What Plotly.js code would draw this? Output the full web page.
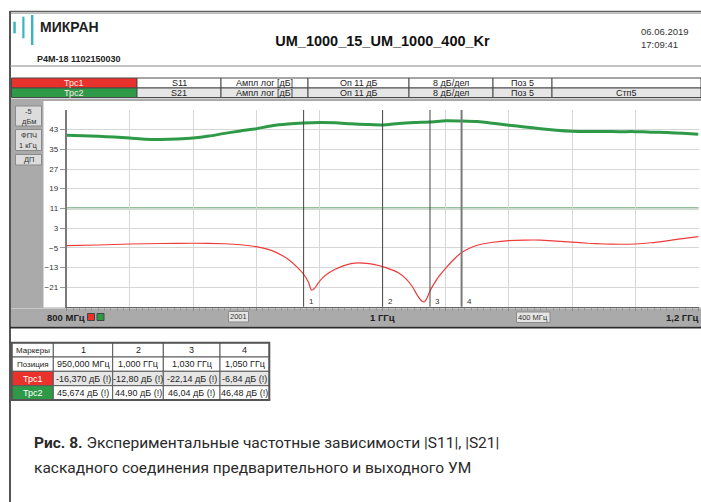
<!DOCTYPE html>
<html><head><meta charset="utf-8">
<script src="https://cdn.plot.ly/plotly-3.0.1.min.js"></script>
<style>html,body{margin:0;padding:0;background:#fff;overflow:hidden}#chart{width:701px;height:502px}</style>
</head><body><div id="chart"></div>
<script>
// ---------- data ----------
const freqS11 = [800,820,840,860,880,900,910,920,930,937,942,946,950,953,955,957,959,962,966,970,975,980,985,990,995,1000,1005,1010,1015,1019,1022,1025,1026.5,1028,1030,1033,1036,1040,1045,1050,1055,1060,1070,1080,1090,1100,1110,1120,1130,1140,1150,1160,1170,1180,1190,1200];
const s11 = [-4.2,-3.9,-3.5,-3.3,-3.2,-3.4,-3.8,-4.6,-6.2,-8.4,-10.6,-13.0,-15.8,-19.0,-22.3,-21.5,-19.6,-17.3,-15.2,-13.8,-12.4,-11.5,-11.2,-11.4,-11.9,-12.7,-13.8,-15.2,-17.8,-21.0,-24.4,-26.8,-27.0,-25.6,-22.6,-19.2,-16.4,-13.3,-9.8,-7.0,-5.2,-4.0,-2.8,-2.1,-1.9,-1.9,-2.3,-2.7,-3.2,-3.5,-3.6,-3.5,-3.0,-2.2,-1.3,-0.5];
const freqS21 = [800,810,820,830,840,850,860,870,880,890,900,910,920,930,940,950,960,970,980,990,1000,1010,1020,1030,1040,1050,1060,1070,1080,1090,1100,1110,1120,1130,1140,1150,1160,1170,1180,1190,1200];
const s21 = [40.7,40.5,40.3,40.0,39.6,39.1,39.0,39.2,39.6,40.4,41.5,42.5,43.4,44.6,45.3,45.7,45.9,45.8,45.4,45.1,44.9,45.5,45.9,46.1,46.6,46.5,46.3,45.6,44.8,44.1,43.4,42.8,42.4,42.3,42.3,42.2,42.2,42.0,41.8,41.5,41.1];
const yTicks = [43,35,27,19,11,3,-5,-13,-21];
const refLevel = 11;
const markerNames = ['1','2','3','4'];
const markerFreqs = [950,1000,1030,1050];
const markerPos = ['950,000 МГц','1,000 ГГц','1,030 ГГц','1,050 ГГц'];
const markerTrc1 = ['-16,370 дБ (!)','-12,80 дБ (!)','-22,14 дБ (!)','-6,84 дБ (!)'];
const markerTrc2 = ['45,674 дБ (!)','44,90 дБ (!)','46,04 дБ (!)','46,48 дБ (!)'];
const traceRow1 = ['Трс1','S11','Ампл лог [дБ]','Оп 11 дБ','8 дБ/дел','Поз 5',''];
const traceRow2 = ['Трс2','S21','Ампл лог [дБ]','Оп 11 дБ','8 дБ/дел','Поз 5','Стп5'];
const sideButtons = [['-5','дБм'],['ФПЧ','1 кГц'],['ДП']];
const chartTitle = 'UM_1000_15_UM_1000_400_Kr';
const brandName = 'МИКРАН';
const deviceId = 'Р4М-18 1102150030';
const dateText = '06.06.2019', timeText = '17:09:41';
const startLabel = '800 МГц', centerLabel = '1 ГГц', stopLabel = '1,2 ГГц', spanLabel = '400 МГц', pointsLabel = '2001';
const captionBold = 'Рис. 8.';
const captionLine1 = 'Экспериментальные частотные зависимости |S11|, |S21|';
const captionLine2 = 'каскадного соединения предварительного и выходного УМ';

// ---------- helpers ----------
const W = 701, H = 502;
const X = p => p / W, Y = p => 1 - p / H;
const RED = '#e8322b', GREEN = '#2e9a47';
const ARIAL = 'Liberation Sans, Arial, sans-serif';
const shapes = [], ann = [];
function rect(x0, y0, x1, y1, fill, lc, lw, layer) {
  shapes.push({type:'rect', xref:'paper', yref:'paper', x0:X(x0), x1:X(x1), y0:Y(y1), y1:Y(y0),
    fillcolor: fill || 'rgba(0,0,0,0)', line:{color: lc || 'rgba(0,0,0,0)', width: lw === undefined ? 1 : lw}, layer: layer || 'below'});
}
function line(x0, y0, x1, y1, color, width, layer) {
  shapes.push({type:'line', xref:'paper', yref:'paper', x0:X(x0), x1:X(x1), y0:Y(y0), y1:Y(y1),
    line:{color, width}, layer: layer || 'below'});
}
function txt(text, x, y, size, opt) {
  opt = opt || {};
  ann.push({text, xref:'paper', yref:'paper', x:X(x), y:Y(y), xanchor: opt.anchor || 'center', yanchor:'middle',
    showarrow:false, borderpad:0, font:{family: opt.family || ARIAL, size, color: opt.color || '#222'}});
}

// ---------- frame & header ----------
line(10, 11.5, 701, 11.5, '#5e5e5e', 1.5);
line(10, 13.2, 701, 13.2, '#a0a0a0', 1);
line(10, 11, 10, 502, '#555', 2);
line(10, 66, 701, 66, '#8a8a8a', 1);
// logo bars
rect(13.3, 21.7, 15.8, 33.3, '#39b4c2', null, 0);
rect(22.3, 16.7, 24.5, 38.3, '#39b4c2', null, 0);
rect(31, 15, 33.4, 45, '#39b4c2', null, 0);
txt('<b>' + brandName + '</b>', 39, 27, 14, {anchor:'left', color:'#1e1e1e'});
txt('<b>' + deviceId + '</b>', 36, 58.5, 9, {anchor:'left'});
txt(dateText, 640, 31.5, 9.5, {anchor:'left', color:'#333'});
txt(timeText, 640, 44, 9.5, {anchor:'left', color:'#333'});

// trace rows
const colEdges = [11.5, 137, 221, 308, 409, 493, 552, 701];
[[traceRow1, 78, 88, RED, '#ffffff'], [traceRow2, 88, 97.5, GREEN, '#e6e6e6']].forEach(([row, y0, y1, c0, bg]) => {
  row.forEach((t, i) => {
    rect(colEdges[i], y0, colEdges[i + 1], y1, i === 0 ? c0 : bg, '#4a4a4a', 1);
    if (t) txt(t, (colEdges[i] + colEdges[i + 1]) / 2, (y0 + y1) / 2, 9, {color: i === 0 ? '#fbe9e9' : '#222'});
  });
});

// ---------- instrument panel ----------
rect(11, 98.5, 701, 326, '#aaaaaa', null, 0);
rect(43.5, 101, 701, 307.5, '#ffffff', null, 0);
line(11, 308.5, 701, 308.5, '#c8c8c8', 1);
line(10, 327.5, 701, 327.5, '#2a2a2a', 2);
// side buttons
const btnY = [[106, 126], [129.5, 150.5], [154.5, 165]];
sideButtons.forEach((lines, i) => {
  const [a, b] = btnY[i];
  rect(15.5, a, 41.5, b, '#dcdcdc', '#8a8a8a', 1);
  if (lines.length === 2) {
    txt(lines[0], 28.5, a + 5.5, 7.5, {color:'#333'});
    txt(lines[1], 28.5, b - 5, 7.5, {color:'#333'});
  } else {
    txt(lines[0], 28.5, (a + b) / 2, 7.5, {color:'#333'});
  }
});
// bottom bar
txt('<b>' + startLabel + '</b>', 45.5, 317, 9.5, {anchor:'left', color:'#1e1e1e'});
rect(87.5, 313.5, 94.5, 320.5, RED, '#444', 1, 'above');
rect(97, 313.5, 104, 320.5, GREEN, '#444', 1, 'above');
rect(228.5, 311.5, 248.5, 322, '#e4e4e4', '#8a8a8a', 1, 'above');
txt(pointsLabel, 238.5, 316.8, 7.5, {color:'#333'});
txt('<b>' + centerLabel + '</b>', 382.5, 317.3, 9.5, {color:'#1e1e1e'});
rect(516.5, 312, 550, 322.5, '#e4e4e4', '#8a8a8a', 1, 'above');
txt(spanLabel, 533.3, 317.3, 7.5, {color:'#333'});
txt('<b>' + stopLabel + '</b>', 699.5, 317.3, 9.5, {anchor:'right', color:'#1e1e1e'});

// ---------- plot overlays ----------
shapes.push({type:'line', xref:'x domain', yref:'y', x0:0, x1:1, y0:refLevel, y1:refLevel,
  line:{color:'#23843a', width:1.6}, layer:'below'});
markerFreqs.forEach((f, i) => {
  const last = i === markerFreqs.length - 1;
  shapes.push({type:'line', xref:'x', yref:'y domain', x0:f, x1:f, y0:0, y1:1,
    line:{color: last ? '#7a7a7a' : '#444', width: last ? 2 : 1}, layer:'above'});
  ann.push({text: markerNames[i], xref:'x', yref:'paper', x:f, y:Y(301.5), xanchor:'left', yanchor:'middle',
    xshift: 3, showarrow:false, font:{family:ARIAL, size:8, color:'#333'}});
});

// ---------- marker table ----------
const tCols = [11.7, 53.3, 112.7, 163.3, 220, 269.3];
const tRows = [342.7, 357, 371.3, 385.7, 400];
const tData = [['Маркеры', ...markerNames], ['Позиция', ...markerPos], ['Трс1', ...markerTrc1], ['Трс2', ...markerTrc2]];
tData.forEach((row, r) => {
  row.forEach((t, c) => {
    let fill = '#ffffff', col = '#222';
    if (r === 2) fill = c === 0 ? RED : '#e6e6e6';
    if (r === 3 && c === 0) fill = GREEN;
    if (c === 0 && r >= 2) col = '#ffffff';
    rect(tCols[c], tRows[r], tCols[c + 1], tRows[r + 1], fill, '#5a5a5a', 1);
    const size = (c === 0 && r < 2) ? 8 : 9;
    txt(t, (tCols[c] + tCols[c + 1]) / 2, (tRows[r] + tRows[r + 1]) / 2 + 0.3, size, {color: col});
  });
});
rect(tCols[0], tRows[0], tCols[5], tRows[4], null, '#555', 2);

// ---------- caption ----------
const CAP = 'Roboto, Open Sans, sans-serif';
txt('<b>' + captionBold + '</b> ' + captionLine1, 32.5, 443, 15.5, {anchor:'left', family:CAP, color:'#2a2a2a'});
txt(captionLine2, 32.5, 468, 15.5, {anchor:'left', family:CAP, color:'#2a2a2a'});

// ---------- traces ----------
const traces = [
  {x: freqS21, y: s21, type:'scatter', mode:'lines', line:{color:GREEN, width:3, shape:'spline', smoothing:0.6}, hoverinfo:'skip'},
  {x: freqS11, y: s11, type:'scatter', mode:'lines', line:{color:'#ee3b3b', width:1.2, shape:'spline', smoothing:0.4}, hoverinfo:'skip'}
];

const layout = {
  width: W, height: H, margin:{l:0, r:0, t:0, b:0},
  paper_bgcolor:'#ffffff', plot_bgcolor:'rgba(0,0,0,0)', showlegend:false,
  title:{text:'<b>' + chartTitle + '</b>', xref:'paper', yref:'paper', x:X(382.5), y:Y(41), xanchor:'center', yanchor:'middle',
    font:{family:ARIAL, size:14.5, color:'#111'}},
  xaxis:{domain:[X(66.7), X(698.5)], range:[800, 1200], tick0:800, dtick:40, showticklabels:false,
    ticks:'outside', ticklen:3, tickcolor:'#888', showgrid:true, gridcolor:'#d6d6d6', gridwidth:1, zeroline:false,
    showline:true, linecolor:'#666', linewidth:1.5,
    minor:{dtick:4, ticks:'outside', ticklen:3, tickcolor:'#999', showgrid:false}},
  yaxis:{domain:[Y(306.7), Y(110)], range:[-29, 51], tickmode:'array', tickvals:yTicks,
    ticks:'outside', ticklen:5, tickcolor:'#999', tickfont:{family:ARIAL, size:8, color:'#333'},
    showgrid:true, gridcolor:'#d6d6d6', gridwidth:1, zeroline:false, showline:true, linecolor:'#7a7a7a', linewidth:2},
  shapes, annotations: ann
};
Plotly.newPlot('chart', traces, layout, {staticPlot:true, displayModeBar:false});
</script></body></html>
